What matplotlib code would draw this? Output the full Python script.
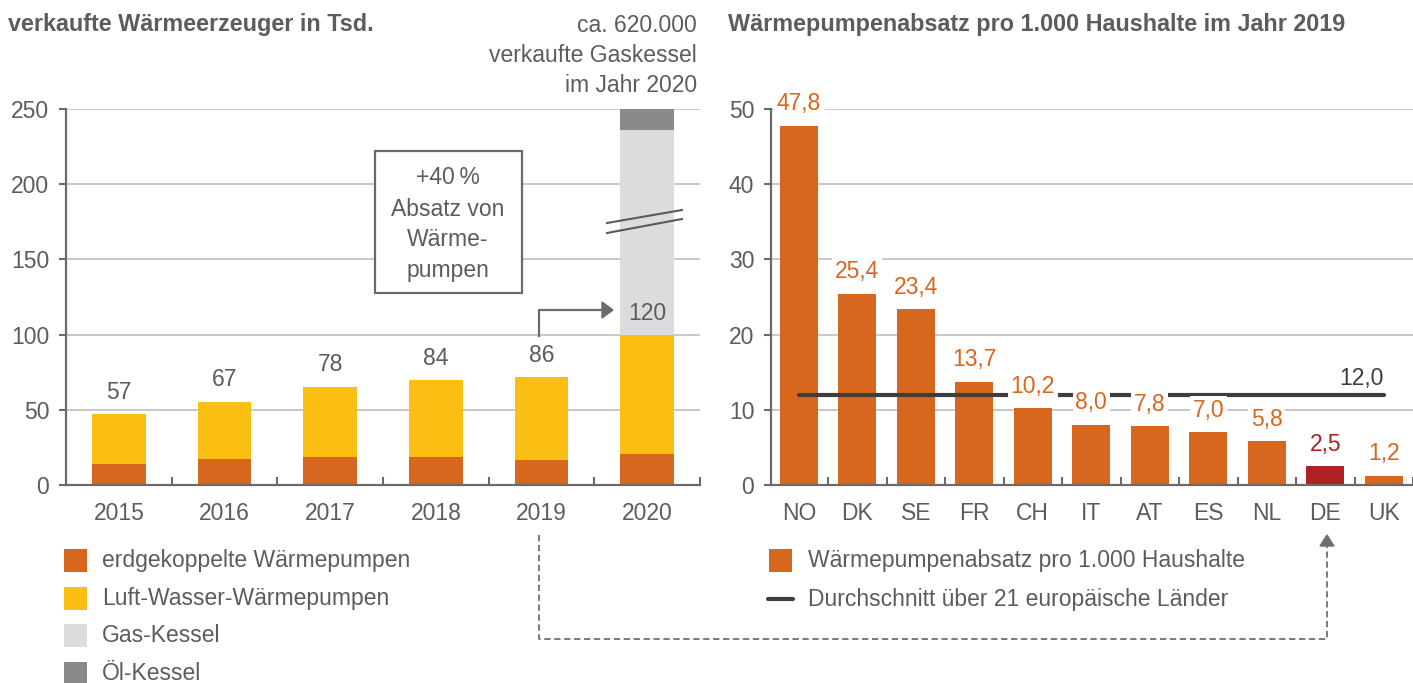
import matplotlib
matplotlib.use("Agg")
import matplotlib.pyplot as plt
from matplotlib.patches import Rectangle, Polygon

plt.rcParams['font.family'] = ['Liberation Sans', 'DejaVu Sans']

# ---------------- data ----------------
years = ['2015', '2016', '2017', '2018', '2019', '2020']
erdgekoppelt = [14.0, 17.3, 18.6, 18.6, 16.6, 20.6]
luft_wasser = [33.2, 37.9, 46.6, 51.2, 55.2, 79.1]
gas_kessel = [0, 0, 0, 0, 0, 136.3]   # axis broken: ca. 620.000
oel_kessel = [0, 0, 0, 0, 0, 14.0]
left_labels = ['57', '67', '78', '84', '86', '120']

countries = ['NO', 'DK', 'SE', 'FR', 'CH', 'IT', 'AT', 'ES', 'NL', 'DE', 'UK']
absatz = [47.8, 25.4, 23.4, 13.7, 10.2, 8.0, 7.8, 7.0, 5.8, 2.5, 1.2]
durchschnitt = 12.0

# ---------------- style ----------------
ORANGE = '#D7661E'
YELLOW = '#FBBE13'
GAS = '#DCDCDE'
OEL = '#8A8A8D'
RED = '#AF2124'
TXT = '#5C5C5C'
DARK = '#3E3E3E'
GRID = '#C4C4C4'
SPINE = '#6A6A6A'
FS = 16.5
FST = 16.8

W, H = 1413, 683
fig = plt.figure(figsize=(W / 100, H / 100), dpi=100)


def frac(x0, x1, ytop, ybot):
    return [x0 / W, 1 - ybot / H, (x1 - x0) / W, (ybot - ytop) / H]


def style_axes(ax, n, yticks):
    ax.set_xlim(-0.5 if n == 6 else -0.476, n - 0.5 if n == 6 else 10.44)
    ax.set_yticks(yticks)
    ax.set_xticks(range(n))
    ax.set_xticks([i + 0.5 for i in range(n)], minor=True)
    ax.tick_params(axis='y', length=5, width=1.5, color=SPINE, pad=7,
                   labelsize=FS, labelcolor=TXT)
    ax.tick_params(axis='x', which='major', length=0, pad=12,
                   labelsize=FS, labelcolor=TXT)
    ax.tick_params(axis='x', which='minor', direction='in', length=6,
                   width=1.5, color=SPINE)
    for s in ['top', 'right']:
        ax.spines[s].set_visible(False)
    for s in ['left', 'bottom']:
        ax.spines[s].set_color(SPINE)
        ax.spines[s].set_linewidth(1.6)
        ax.spines[s].set_zorder(5)
    ax.yaxis.grid(True, color=GRID, linewidth=1.3)
    ax.set_axisbelow(True)


# ---------------- left chart ----------------
axL = fig.add_axes(frac(66, 700, 109, 485))
x = list(range(len(years)))
bw = 0.51
axL.bar(x, erdgekoppelt, bw, color=ORANGE, zorder=2)
hp_total = [a + b for a, b in zip(erdgekoppelt, luft_wasser)]
axL.bar(x, luft_wasser, bw, bottom=erdgekoppelt, color=YELLOW, zorder=2)
axL.bar(x, gas_kessel, bw, bottom=hp_total, color=GAS, zorder=2)
gas_top = [a + b for a, b in zip(hp_total, gas_kessel)]
axL.bar(x, oel_kessel, bw, bottom=gas_top, color=OEL, zorder=2)
axL.set_ylim(0, 250)
axL.set_xticklabels(years)
style_axes(axL, 6, [0, 50, 100, 150, 200, 250])
for i, (lab, top) in enumerate(zip(left_labels, hp_total)):
    axL.annotate(lab, (i, top), xytext=(0, 22), textcoords='offset pixels',
                 ha='center', va='center', fontsize=FS, color=TXT, zorder=6)

# ---------------- right chart ----------------
axR = fig.add_axes(frac(771, 1413, 109, 485))
xr = list(range(len(countries)))
colors = [RED if c == 'DE' else ORANGE for c in countries]
axR.bar(xr, absatz, 0.65, color=colors, zorder=2)
axR.set_ylim(0, 50)
axR.set_xticklabels(countries)
style_axes(axR, 11, [0, 10, 20, 30, 40, 50])
axR.plot([xr[0], xr[-1]], [durchschnitt, durchschnitt], color=DARK,
         linewidth=3.0, solid_capstyle='round', zorder=3)
axR.annotate(f'{durchschnitt:.1f}'.replace('.', ','), (xr[-1], durchschnitt),
             xytext=(0, 16), textcoords='offset pixels', ha='right',
             va='center', fontsize=FS, color=DARK, zorder=6)
for i, (v, c) in enumerate(zip(absatz, colors)):
    axR.annotate(f'{v:.1f}'.replace('.', ','), (i, v), xytext=(0, 22),
                 textcoords='offset pixels', ha='center', va='center',
                 fontsize=FS, color=c if c == RED else '#D9661E', zorder=6,
                 bbox=dict(boxstyle='square,pad=0.12', fc='white', ec='none'))

# ---------------- overlay (pixel coordinates) ----------------
ov = fig.add_axes([0, 0, 1, 1], zorder=10)
ov.set_xlim(0, W)
ov.set_ylim(H, 0)
ov.axis('off')
ov.patch.set_visible(False)

# titles
ov.text(8, 25, 'verkaufte Wärmeerzeuger in Tsd.', fontsize=FST, fontweight='bold',
        color=TXT, ha='left', va='center')
ov.text(728, 25, 'Wärmepumpenabsatz pro 1.000 Haushalte im Jahr 2019', fontsize=FST,
        fontweight='bold', color=TXT, ha='left', va='center')
for yy, t in zip([25, 56, 86], ['ca. 620.000', 'verkaufte Gaskessel', 'im Jahr 2020']):
    ov.text(697, yy, t, fontsize=FS, color=TXT, ha='right', va='center')

# break marks on 2020 bar
for y0, y1 in [(223, 210), (233, 219)]:
    ov.plot([607, 682], [y0, y1], color='#5A5A5A', linewidth=1.5)

# annotation box
ov.add_patch(Rectangle((375, 151), 147, 142, fc='white', ec=SPINE, lw=1.6))
for yy, t in zip([178, 209, 240, 270], ['+40\u2009%', 'Absatz von', 'Wärme-', 'pumpen']):
    ov.text(448, yy, t, fontsize=FS, color=TXT, ha='center', va='center')

# elbow arrow 2019 -> 2020
ov.plot([539, 539, 604], [336, 310, 310], color=SPINE, linewidth=1.6)
ov.add_patch(Polygon([[602, 302], [613, 310], [602, 318]], closed=True, fc=SPINE, ec=SPINE))

# dashed connector
ov.plot([539, 539, 1327, 1327], [535, 639, 639, 545], color='#707070',
        linewidth=1.3, linestyle=(0, (3.5, 2)))
ov.add_patch(Polygon([[1320, 546], [1327, 535], [1334, 546]], closed=True,
                     fc='#707070', ec='#707070'))

# left legend
leg_items = [(ORANGE, 'erdgekoppelte Wärmepumpen'), (YELLOW, 'Luft-Wasser-Wärmepumpen'),
             (GAS, 'Gas-Kessel'), (OEL, 'Öl-Kessel')]
for k, (c, t) in enumerate(leg_items):
    yc = 560.5 + 37.5 * k
    ov.add_patch(Rectangle((64, yc - 11.5), 23, 23, fc=c, ec='none'))
    ov.text(102, yc, t, fontsize=FS, color=TXT, ha='left', va='center')

# right legend
ov.add_patch(Rectangle((769, 549), 23, 23, fc=ORANGE, ec='none'))
ov.text(808, 561, 'Wärmepumpenabsatz pro 1.000 Haushalte', fontsize=FS, color=TXT,
        ha='left', va='center')
ov.plot([768, 793], [599, 599], color=DARK, linewidth=3.0, solid_capstyle='round')
ov.text(808, 599.5, 'Durchschnitt über 21 europäische Länder', fontsize=FS, color=TXT,
        ha='left', va='center')

fig.savefig('out.png', dpi=100)
